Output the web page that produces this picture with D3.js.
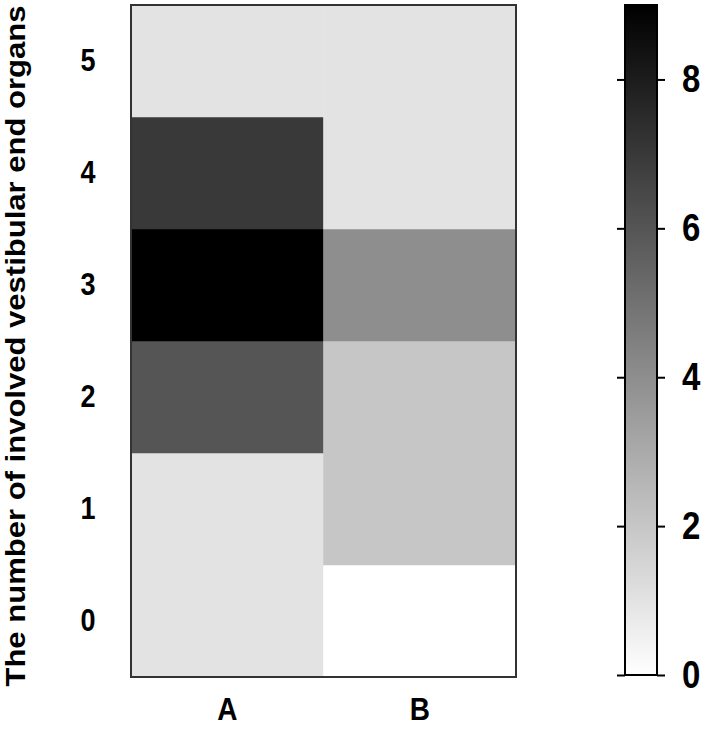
<!DOCTYPE html>
<html>
<head>
<meta charset="utf-8">
<script src="https://cdn.jsdelivr.net/npm/d3@7"></script>
<style>
  body { margin: 0; background: #fff; }
  text { font-family: "Liberation Sans", Arial, sans-serif; font-weight: bold; fill: #000; }
</style>
</head>
<body>
<svg id="chart" width="709" height="729"></svg>
<script>
// groups on x, counts on y
var groups = ["A", "B"];
var levels = ["0", "1", "2", "3", "4", "5"];
var countsA = [1, 1, 6, 9, 7, 1];
var countsB = [0, 2, 2, 4, 1, 1];
var cbarTicks = [0, 2, 4, 6, 8];
var cbarMax = 9;

var cells = [];
levels.forEach(function(l, i) {
  cells.push({g: "A", l: l, v: countsA[i]});
  cells.push({g: "B", l: l, v: countsB[i]});
});

var svg = d3.select("#chart");

// the original text looks stretched a bit vertically
var stretch = 1.15;

var plot = {left: 131, right: 516, top: 5, bottom: 677};

var x = d3.scaleBand().domain(groups).range([plot.left, plot.right]);
var y = d3.scaleBand().domain(levels).range([plot.bottom, plot.top]);
var color = d3.scaleLinear().domain([0, cbarMax]).range(["#ffffff", "#000000"]);

svg.append("g")
  .selectAll("rect").data(cells).enter().append("rect")
    .attr("x", function(d) { return x(d.g); })
    .attr("y", function(d) { return y(d.l); })
    .attr("width", x.bandwidth())
    .attr("height", y.bandwidth())
    .attr("fill", function(d) { return color(d.v); })
    .attr("stroke", function(d) { return color(d.v); })
    .attr("stroke-width", 0.5);

// frame
svg.append("rect")
  .attr("x", plot.left).attr("y", plot.top)
  .attr("width", plot.right - plot.left)
  .attr("height", plot.bottom - plot.top)
  .attr("fill", "none")
  .attr("stroke", "#333")
  .attr("stroke-width", 2);

// y labels
var yAxis = svg.append("g")
  .attr("transform", "translate(" + (plot.left - 43) + ",0)")
  .call(d3.axisLeft(y).tickSize(0).tickPadding(0));
yAxis.select(".domain").remove();
yAxis.selectAll("text")
  .attr("text-anchor", "middle")
  .attr("font-size", 27)
  .attr("transform", "scale(1," + stretch + ")");

// x labels
var xAxis = svg.append("g")
  .attr("transform", "translate(0,697)")
  .call(d3.axisBottom(x).tickSize(0).tickPadding(0));
xAxis.select(".domain").remove();
xAxis.selectAll("text")
  .attr("font-size", 28)
  .attr("transform", "scale(1," + stretch + ")");

// y title
svg.append("text")
  .attr("transform", "translate(25,346) rotate(-90) scale(" + stretch + ",1)")
  .attr("text-anchor", "middle")
  .attr("font-size", 27)
  .text("The number of involved vestibular end organs");

// colorbar
var cb = {left: 625, right: 657, top: 5, bottom: 675};
var cy = d3.scaleLinear().domain([0, cbarMax]).range([cb.bottom, cb.top]);

var grad = svg.append("defs").append("linearGradient")
  .attr("id", "cbgrad").attr("x1", 0).attr("y1", 1).attr("x2", 0).attr("y2", 0);
grad.append("stop").attr("offset", 0).attr("stop-color", color(0));
grad.append("stop").attr("offset", 1).attr("stop-color", color(cbarMax));

svg.append("rect")
  .attr("x", cb.left).attr("y", cb.top)
  .attr("width", cb.right - cb.left).attr("height", cb.bottom - cb.top)
  .attr("fill", "url(#cbgrad)")
  .attr("stroke", "#000")
  .attr("stroke-width", 2);

var cAxisR = svg.append("g")
  .attr("transform", "translate(" + cb.right + ",0)")
  .call(d3.axisRight(cy).tickValues(cbarTicks).tickSize(8).tickPadding(17).tickFormat(d3.format("d")));
cAxisR.select(".domain").remove();
cAxisR.selectAll("line").attr("stroke", "#000").attr("stroke-width", 2);
cAxisR.selectAll("text")
  .attr("font-size", 33)
  .attr("transform", "scale(1," + stretch + ")");

var cAxisL = svg.append("g")
  .attr("transform", "translate(" + cb.left + ",0)")
  .call(d3.axisLeft(cy).tickValues(cbarTicks).tickSize(8).tickFormat(""));
cAxisL.select(".domain").remove();
cAxisL.selectAll("line").attr("stroke", "#000").attr("stroke-width", 2);
</script>
</body>
</html>
